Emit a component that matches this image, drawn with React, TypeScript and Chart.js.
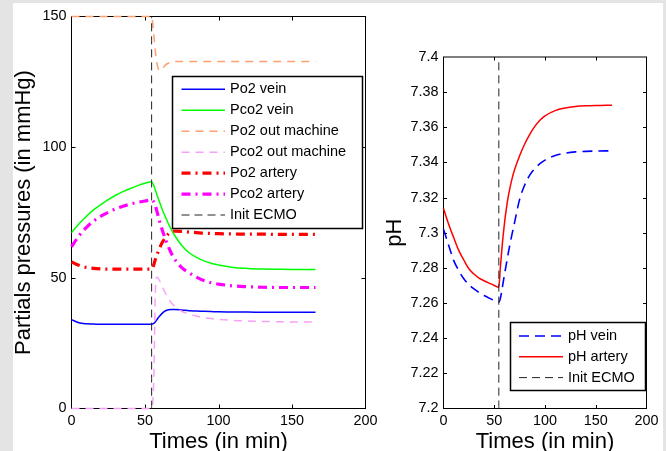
import React, { useEffect, useRef } from 'react';
import { Chart, registerables } from 'chart.js';

Chart.register(...registerables);

const FONT = '"Liberation Sans", Arial, Helvetica, sans-serif';

// ---- Left panel data (time in min, pressures in mmHg) ----
const T_LEFT = [0, 5, 10, 15, 20, 25, 30, 35, 40, 45, 50, 54.5, 56, 57, 58, 59, 60, 62, 64, 66, 68, 70, 75, 80, 85, 90, 95, 100, 110, 120, 130, 140, 150, 160, 166];
const PO2_VEIN = [34.0, 32.8, 32.4, 32.3, 32.2, 32.2, 32.2, 32.2, 32.2, 32.2, 32.2, 32.2, 32.6, 33.1, 33.9, 34.7, 35.4, 36.6, 37.4, 37.8, 37.9, 37.9, 37.7, 37.4, 37.3, 37.2, 37.1, 37.0, 36.9, 36.9, 36.8, 36.8, 36.8, 36.8, 36.8];
const PCO2_VEIN = [67.3, 70.6, 73.5, 76.0, 78.0, 79.9, 81.6, 83.0, 84.2, 85.3, 86.2, 86.8, 85.3, 83.6, 82.0, 80.4, 78.8, 75.8, 73.2, 70.6, 68.3, 66.4, 62.4, 59.6, 57.8, 56.5, 55.6, 54.9, 54.0, 53.6, 53.4, 53.3, 53.2, 53.2, 53.2];
const PO2_OUT = [150, 150, 150, 150, 150, 150, 150, 150, 150, 150, 150, 150, 143, 137, 132.5, 130.0, 129.3, 130.2, 131.5, 132.2, 132.6, 132.8, 132.8, 132.8, 132.8, 132.8, 132.8, 132.8, 132.8, 132.8, 132.8, 132.8, 132.8, 132.8, 132.8];
const PCO2_OUT = [0, 0, 0, 0, 0, 0, 0, 0, 0, 0, 0, 0, 12, 44, 50.2, 49.8, 48.8, 46.3, 44.0, 42.0, 40.4, 39.2, 37.2, 36.2, 35.4, 34.8, 34.4, 34.1, 33.7, 33.5, 33.3, 33.2, 33.1, 33.1, 33.1];
const PO2_ART = [56.1, 54.8, 54.0, 53.6, 53.4, 53.3, 53.3, 53.3, 53.3, 53.3, 53.3, 53.3, 55.0, 57.0, 58.6, 60.1, 61.5, 63.8, 65.5, 66.8, 67.6, 67.9, 67.8, 67.5, 67.3, 67.1, 67.0, 66.9, 66.8, 66.7, 66.7, 66.6, 66.6, 66.6, 66.6];
const PCO2_ART = [61.9, 66.0, 69.2, 71.7, 73.6, 75.1, 76.4, 77.4, 78.2, 78.9, 79.4, 79.8, 79.0, 77.6, 75.7, 73.6, 71.5, 67.8, 64.6, 61.8, 59.3, 57.3, 53.9, 51.9, 50.3, 49.0, 48.1, 47.6, 46.9, 46.6, 46.4, 46.3, 46.3, 46.3, 46.3];

// ---- Right panel data (pH) ----
const T_RIGHT = [0, 5, 10, 15, 20, 25, 30, 35, 40, 45, 50, 54.5, 56, 58, 60, 62, 64, 66, 68, 70, 75, 80, 85, 90, 95, 100, 110, 120, 130, 140, 150, 160, 166];
const PH_VEIN = [7.3020, 7.2930, 7.2843, 7.2785, 7.2738, 7.2705, 7.2680, 7.2660, 7.2643, 7.2628, 7.2615, 7.2606, 7.2625, 7.2690, 7.2760, 7.2825, 7.2890, 7.2950, 7.3005, 7.3058, 7.3190, 7.3272, 7.3328, 7.3365, 7.3393, 7.3413, 7.3440, 7.3453, 7.3460, 7.3463, 7.3465, 7.3466, 7.3466];
const PH_ART = [7.3138, 7.3050, 7.2973, 7.2900, 7.2845, 7.2795, 7.2765, 7.2742, 7.2727, 7.2713, 7.2700, 7.2690, 7.2802, 7.2938, 7.3050, 7.3140, 7.3212, 7.3270, 7.3318, 7.3358, 7.3438, 7.3505, 7.3560, 7.3605, 7.3640, 7.3665, 7.3695, 7.3710, 7.3718, 7.3722, 7.3724, 7.3725, 7.3726];

// ---- Init ECMO marker ----
const INIT_T = [54.5, 54.5];
const INIT_LEFT = [0, 150];
const INIT_RIGHT = [7.2, 7.4];

// ---- Ticks and labels ----
const X_TICKS = [0, 50, 100, 150, 200];
const Y_TICKS_LEFT = [0, 50, 100, 150];
const Y_TICKS_RIGHT = [7.2, 7.22, 7.24, 7.26, 7.28, 7.3, 7.32, 7.34, 7.36, 7.38, 7.4];
const X_TITLE = 'Times (in min)';
const Y_TITLE_LEFT = 'Partials pressures (in mmHg)';
const Y_TITLE_RIGHT = 'pH';

const pts = (xs: number[], ys: number[]) => xs.map((x, i) => ({ x, y: ys[i] }));

const DASH = [8, 6];
const DASHDOT = [9, 5, 2, 5];
const INIT_DASH = [8, 5];

function line(label: string, data: any[], color: string, width: number, dash: number[], order: number) {
  return {
    label,
    data,
    borderColor: color,
    backgroundColor: color,
    borderWidth: width,
    borderDash: dash,
    pointRadius: 0,
    fill: false,
    cubicInterpolationMode: 'monotone',
    clip: false,
    order,
  };
}

type LegendBox = { x0: number; y0: number; x1: number; y1: number; lx0: number; lx1: number; tx: number; ry0: number; rstep: number };

function framePlugin(tickLen: number, lg: LegendBox) {
  return {
    id: 'frameLegend',
    beforeDatasetsDraw(chart: any) {
      const { ctx, chartArea: a, scales } = chart;
      ctx.save();
      ctx.strokeStyle = '#000';
      ctx.lineWidth = 1;
      ctx.setLineDash([]);
      ctx.beginPath();
      for (const t of scales.x.ticks) {
        const p = Math.round(scales.x.getPixelForValue(t.value)) + 0.5;
        if (p - a.left < 2 || a.right - p < 2) continue;
        ctx.moveTo(p, a.bottom);
        ctx.lineTo(p, a.bottom - tickLen);
        ctx.moveTo(p, a.top);
        ctx.lineTo(p, a.top + tickLen);
      }
      for (const t of scales.y.ticks) {
        const p = Math.round(scales.y.getPixelForValue(t.value)) + 0.5;
        if (p - a.top < 2 || a.bottom - p < 2) continue;
        ctx.moveTo(a.left, p);
        ctx.lineTo(a.left + tickLen, p);
        ctx.moveTo(a.right, p);
        ctx.lineTo(a.right - tickLen, p);
      }
      ctx.stroke();
      ctx.strokeRect(a.left, a.top, a.right - a.left, a.bottom - a.top);
      ctx.restore();
    },
    afterDatasetsDraw(chart: any) {
      const { ctx } = chart;
      ctx.save();
      ctx.fillStyle = '#fff';
      ctx.fillRect(lg.x0, lg.y0, lg.x1 - lg.x0, lg.y1 - lg.y0);
      ctx.strokeStyle = '#000';
      ctx.lineWidth = 1.5;
      ctx.setLineDash([]);
      ctx.strokeRect(lg.x0, lg.y0, lg.x1 - lg.x0, lg.y1 - lg.y0);
      const ds = chart.data.datasets;
      ctx.font = `14.5px ${FONT}`;
      ctx.textBaseline = 'middle';
      ctx.textAlign = 'left';
      ds.forEach((d: any, i: number) => {
        const y = lg.ry0 + i * lg.rstep;
        ctx.beginPath();
        ctx.strokeStyle = d.borderColor;
        ctx.lineWidth = d.borderWidth;
        ctx.setLineDash(d.borderDash || []);
        ctx.moveTo(lg.lx0, y);
        ctx.lineTo(lg.lx1, y);
        ctx.stroke();
        ctx.setLineDash([]);
        ctx.fillStyle = '#000';
        ctx.fillText(d.label, lg.tx, y);
      });
      ctx.restore();
    },
  };
}

function makeOptions(p: {
  padLeft: number; padTop: number; padRight: number; yWidth: number; xHeight: number;
  yMin: number; yMax: number; yTicks: number[]; yTitle: string; yTitlePad: number;
}) {
  const tickFont = { family: FONT, size: 14.4 };
  const titleFont = { family: FONT, size: 22, lineHeight: 0.85 };
  return {
    animation: false,
    responsive: false,
    maintainAspectRatio: false,
    events: [],
    layout: { padding: { left: p.padLeft, top: p.padTop, right: p.padRight, bottom: 0 } },
    plugins: { legend: { display: false }, tooltip: { enabled: false }, title: { display: false } },
    scales: {
      x: {
        type: 'linear',
        position: 'bottom',
        min: 0,
        max: 200,
        grid: { display: false, drawTicks: false },
        border: { display: false },
        afterBuildTicks: (s: any) => { s.ticks = X_TICKS.map((v) => ({ value: v })); },
        afterFit: (s: any) => { s.height = p.xHeight; },
        ticks: { color: '#000', font: tickFont, padding: 4, autoSkip: false, maxRotation: 0, callback: (v: any) => String(v) },
        title: { display: true, text: X_TITLE, color: '#000', font: titleFont, padding: { top: 0, bottom: 0 } },
      },
      y: {
        type: 'linear',
        position: 'left',
        min: p.yMin,
        max: p.yMax,
        grid: { display: false, drawTicks: false },
        border: { display: false },
        afterBuildTicks: (s: any) => { s.ticks = p.yTicks.map((v) => ({ value: v })); },
        afterFit: (s: any) => { s.width = p.yWidth; },
        ticks: { color: '#000', font: tickFont, padding: 5, autoSkip: false, callback: (v: any) => String(Number(Number(v).toFixed(2))) },
        title: { display: true, text: p.yTitle, color: '#000', font: titleFont, padding: { top: p.yTitlePad, bottom: 0 } },
      },
    },
  };
}

export default function App() {
  const leftRef = useRef<HTMLCanvasElement | null>(null);
  const rightRef = useRef<HTMLCanvasElement | null>(null);

  useEffect(() => {
    const left = new Chart(leftRef.current as HTMLCanvasElement, {
      type: 'line',
      data: {
        datasets: [
          line('Po2 vein', pts(T_LEFT, PO2_VEIN), '#0000ff', 1.5, [], 7),
          line('Pco2 vein', pts(T_LEFT, PCO2_VEIN), '#00ff00', 1.5, [], 6),
          line('Po2 out machine', pts(T_LEFT, PO2_OUT), '#ffa070', 1.5, DASH, 5),
          line('Pco2 out machine', pts(T_LEFT, PCO2_OUT), '#f8a0f8', 1.5, DASH, 4),
          line('Po2 artery', pts(T_LEFT, PO2_ART), '#ff0000', 3.2, DASHDOT, 3),
          line('Pco2 artery', pts(T_LEFT, PCO2_ART), '#ff00ff', 3.2, DASHDOT, 2),
          line('Init ECMO', pts(INIT_T, INIT_LEFT), '#222222', 1, INIT_DASH, 1),
        ],
      },
      options: makeOptions({
        padLeft: 0, padTop: 16.5, padRight: 300.5, yWidth: 71.5, xHeight: 42.5,
        yMin: 0, yMax: 150, yTicks: Y_TICKS_LEFT, yTitle: Y_TITLE_LEFT, yTitlePad: 15,
      }) as any,
      plugins: [framePlugin(4, { x0: 172.5, y0: 76.5, x1: 362.5, y1: 228.5, lx0: 181.5, lx1: 225, tx: 230, ry0: 89.3, rstep: 20.95 })],
    } as any);

    const right = new Chart(rightRef.current as HTMLCanvasElement, {
      type: 'line',
      data: {
        datasets: [
          line('pH vein', pts(T_RIGHT, PH_VEIN), '#0000ff', 1.6, [10, 6], 3),
          line('pH artery', pts(T_RIGHT, PH_ART), '#ff0000', 1.5, [], 2),
          line('Init ECMO', pts(INIT_T, INIT_RIGHT), '#222222', 1, INIT_DASH, 1),
        ],
      },
      options: makeOptions({
        padLeft: 380, padTop: 57, padRight: 19.5, yWidth: 63.5, xHeight: 42.5,
        yMin: 7.2, yMax: 7.4, yTicks: Y_TICKS_RIGHT, yTitle: Y_TITLE_RIGHT, yTitlePad: 5.5,
      }) as any,
      plugins: [framePlugin(3.5, { x0: 510.5, y0: 322.5, x1: 645.5, y1: 390.5, lx0: 519, lx1: 563, tx: 568, ry0: 336, rstep: 20.8 })],
    } as any);

    return () => {
      left.destroy();
      right.destroy();
    };
  }, []);

  const canvasStyle: React.CSSProperties = { position: 'absolute', left: 0, top: 0, width: 666, height: 451, display: 'block' };

  return (
    <div style={{ position: 'fixed', left: 0, top: 0, width: 666, height: 451, background: '#e4e4e4', overflow: 'hidden' }}>
      <div style={{ position: 'absolute', left: 13, top: 3, width: 650, height: 448, background: '#ffffff' }} />
      <canvas ref={leftRef} width={666} height={451} style={canvasStyle} />
      <canvas ref={rightRef} width={666} height={451} style={canvasStyle} />
    </div>
  );
}
